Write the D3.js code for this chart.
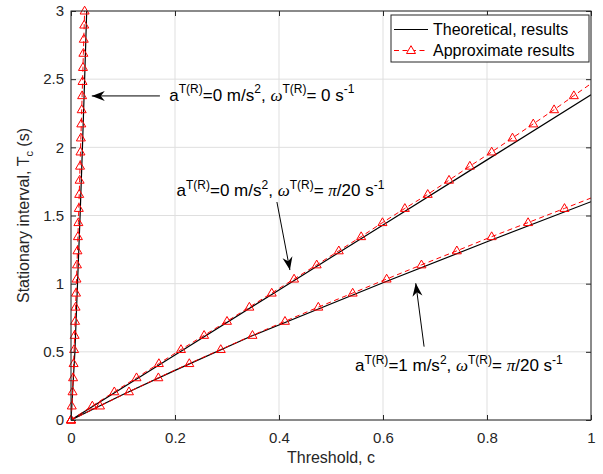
<!DOCTYPE html>
<html><head><meta charset="utf-8">
<script src="https://cdn.jsdelivr.net/npm/d3@7"></script>
<style>body{margin:0;background:#fff} text{font-family:"Liberation Sans",Arial,Helvetica,sans-serif}</style>
</head><body><svg id="c" width="603" height="474"></svg>
<script>
// ---------- data ----------
const xTicks=[0,0.2,0.4,0.6,0.8,1];
const xTickLabels=["0","0.2","0.4","0.6","0.8","1"];
const yTicks=[0,0.5,1,1.5,2,2.5,3];
const yTickLabels=["0","0.5","1","1.5","2","2.5","3"];

// theoretical curves
const thSteepC=[0,0.0075,0.0125,0.0175,0.0220,0.0262,0.0302];
const thSteepT=[0,0.5,1,1.5,2,2.5,3];
const thMidC=[0,0.2,0.4,0.6,0.8,1];
const thMidT=[0,0.477,0.954,1.431,1.908,2.385];
const thLowC=[0,0.1,0.2,0.344,0.6,0.8,1];
const thLowT=[0,0.187,0.364,0.611,1.007,1.307,1.601];

// approximate results (sampled at equal steps of T)
const apT=[0,0.103,0.207,0.310,0.414,0.517,0.621,0.724,0.828,0.931,1.034,1.138,1.241,1.345,1.448,1.552,1.655,1.759,1.862,1.966,2.069,2.172,2.276,2.379,2.483,2.586,2.690,2.793,2.897,3.000];
const apSteepC=[0,0.0015,0.003,0.004,0.005,0.006,0.007,0.0079,0.0088,0.0097,0.0106,0.0115,0.0124,0.0133,0.0142,0.0150,0.0158,0.0166,0.0174,0.0182,0.0190,0.0198,0.0206,0.0214,0.0222,0.0230,0.0238,0.0246,0.0254,0.0262];
const apMidC=[0,0.041,0.0833,0.126,0.169,0.2115,0.256,0.300,0.343,0.386,0.429,0.4725,0.515,0.558,0.599,0.642,0.686,0.727,0.767,0.809,0.849,0.889,0.929,0.967,1.006];
const apLowC=[0,0.0558,0.1115,0.168,0.2275,0.288,0.349,0.4115,0.4756,0.5417,0.607,0.674,0.742,0.809,0.879,0.949,1.018];

const legendLabels=["Theoretical, results","Approximate results"];

// annotations: text start (c,T), arrow tail, arrow tip
const annotations=[
  {tx:0.189,ty:2.34, tail:[0.171,2.377], tip:[0.040,2.377], a:"0", rhs:"0"},
  {tx:0.203,ty:1.643,tail:[0.396,1.599], tip:[0.421,1.100], a:"0", rhs:"pi"},
  {tx:0.546,ty:0.359,tail:[0.679,0.538], tip:[0.663,1.003], a:"1", rhs:"pi"}
];

// ---------- layout ----------
const svg=d3.select("#c");
const L=71,R=591,T=11,B=420;
const x=d3.scaleLinear().domain([0,1]).range([L,R]);
const y=d3.scaleLinear().domain([0,3]).range([B,T]);
const axCol="#262626";

// grid
const grid=svg.append("g");
grid.selectAll(".gx").data(xTicks).join("line")
  .attr("x1",d=>x(d)).attr("x2",d=>x(d)).attr("y1",T).attr("y2",B)
  .attr("stroke","#dfdfdf").attr("stroke-width",1);
grid.selectAll(".gy").data(yTicks).join("line")
  .attr("y1",d=>y(d)).attr("y2",d=>y(d)).attr("x1",L).attr("x2",R)
  .attr("stroke","#dfdfdf").attr("stroke-width",1);

// clip
svg.append("clipPath").attr("id","clip").append("rect")
  .attr("x",L).attr("y",T).attr("width",R-L).attr("height",B-T);

const line=d3.line().x(d=>x(d[0])).y(d=>y(d[1]));
const plot=svg.append("g").attr("clip-path","url(#clip)");

function zip(a,b){return a.map((v,i)=>[v,b[i]]);}
const theo=[zip(thSteepC,thSteepT),zip(thMidC,thMidT),zip(thLowC,thLowT)];
const appr=[zip(apSteepC,apT),zip(apMidC,apT.slice(0,apMidC.length)),zip(apLowC,apT.slice(0,apLowC.length))];

theo.forEach(s=>plot.append("path").attr("d",line(s)).attr("fill","none")
  .attr("stroke","#000").attr("stroke-width",1.2));
appr.forEach(s=>plot.append("path").attr("d",line(s)).attr("fill","none")
  .attr("stroke","#ff0000").attr("stroke-width",1).attr("stroke-dasharray","5,3.5"));

const triPath="M0,-4.8L4.5,3L-4.5,3Z";
const mk=svg.append("g");
appr.forEach(s=>{
  mk.selectAll(null).data(s.filter(d=>d[0]<=1&&d[1]<=3)).join("path")
    .attr("d",triPath).attr("transform",d=>`translate(${x(d[0])},${y(d[1])})`)
    .attr("fill","none").attr("stroke","#ff0000").attr("stroke-width",1);
});

// axes
const fmtX=(d,i)=>xTickLabels[i], fmtY=(d,i)=>yTickLabels[i];
const gB=svg.append("g").attr("transform",`translate(0,${B})`)
  .call(d3.axisBottom(x).tickValues(xTicks).tickFormat(fmtX).tickSize(-5).tickSizeOuter(0).tickPadding(12));
const gL=svg.append("g").attr("transform",`translate(${L},0)`)
  .call(d3.axisLeft(y).tickValues(yTicks).tickFormat(fmtY).tickSize(-5).tickSizeOuter(0).tickPadding(7));
const gT=svg.append("g").attr("transform",`translate(0,${T})`)
  .call(d3.axisTop(x).tickValues(xTicks).tickFormat("").tickSize(-5).tickSizeOuter(0));
const gR=svg.append("g").attr("transform",`translate(${R},0)`)
  .call(d3.axisRight(y).tickValues(yTicks).tickFormat("").tickSize(-5).tickSizeOuter(0));
[gB,gL,gT,gR].forEach(g=>{
  g.selectAll("path.domain").remove();
  g.selectAll("line").attr("stroke",axCol);
  g.selectAll("text").attr("fill",axCol).attr("font-size",15)
   .style("font-family","'Liberation Sans',Arial,sans-serif");
});
svg.append("rect").attr("x",L).attr("y",T).attr("width",R-L).attr("height",B-T)
  .attr("fill","none").attr("stroke",axCol).attr("stroke-width",1);

// axis labels
svg.append("text").attr("x",(L+R)/2).attr("y",463).attr("text-anchor","middle")
  .attr("font-size",16).attr("fill",axCol).text("Threshold, c");
const yl=svg.append("text").attr("transform",`translate(29,${(T+B)/2}) rotate(-90)`)
  .attr("text-anchor","middle").attr("font-size",16).attr("fill",axCol);
yl.append("tspan").text("Stationary interval, T");
yl.append("tspan").attr("font-size",11).attr("dy",4).text("c");
yl.append("tspan").attr("dy",-4).text(" (s)");

// tex-like text
function tex(px,py,segs){
  const t=svg.append("text").attr("x",px).attr("y",py).attr("font-size",17).attr("fill","#000")
    .attr("xml:space","preserve");
  let up=false;
  segs.forEach(s=>{
    const ts=t.append("tspan").text(s.t);
    if(s.sup && !up){ts.attr("dy",-7.5);up=true;}
    else if(!s.sup && up){ts.attr("dy",7.5);up=false;}
    if(s.sup) ts.attr("font-size",12);
    if(s.sym) ts.style("font-family","'Liberation Serif','Times New Roman',serif").attr("font-style","italic");
  });
}
function arrow(tail,tip){
  const x1=x(tail[0]),y1=y(tail[1]),x2=x(tip[0]),y2=y(tip[1]);
  const ang=Math.atan2(y2-y1,x2-x1)*180/Math.PI;
  svg.append("line").attr("x1",x1).attr("y1",y1).attr("x2",x2).attr("y2",y2)
    .attr("stroke","#000").attr("stroke-width",1);
  svg.append("path").attr("d","M0,0L-13,-5L-9,0L-13,5Z")
    .attr("transform",`translate(${x2},${y2}) rotate(${ang})`).attr("fill","#000");
}
annotations.forEach(a=>{
  const segs=[{t:"a"},{t:"T(R)",sup:1},{t:"="+a.a+" m/s"},{t:"2",sup:1},{t:", "},{t:"\u03C9",sym:1},{t:"T(R)",sup:1}];
  if(a.rhs==="0"){segs.push({t:"=\u00A00 s"});}
  else {segs.push({t:"=\u00A0"});segs.push({t:"\u03C0",sym:1});segs.push({t:"/20 s"});}
  segs.push({t:"-1",sup:1});
  tex(x(a.tx),y(a.ty),segs);
  arrow(a.tail,a.tip);
});

// legend
const lg=svg.append("g").attr("transform","translate(391,15)");
lg.append("rect").attr("width",198).attr("height",47).attr("fill","#fff").attr("stroke",axCol).attr("stroke-width",1);
lg.append("line").attr("x1",3).attr("x2",37).attr("y1",14.5).attr("y2",14.5).attr("stroke","#000").attr("stroke-width",1.2);
lg.append("line").attr("x1",3).attr("x2",37).attr("y1",35.5).attr("y2",35.5).attr("stroke","#ff0000").attr("stroke-dasharray","5,3.5");
lg.append("path").attr("d",triPath).attr("transform","translate(20,35.5)").attr("fill","#fff").attr("stroke","#ff0000");
legendLabels.forEach((l,i)=>lg.append("text").attr("x",42).attr("y",14.5+21*i).attr("dy","0.35em")
  .attr("font-size",16).attr("fill","#000").text(l));
</script></body></html>
